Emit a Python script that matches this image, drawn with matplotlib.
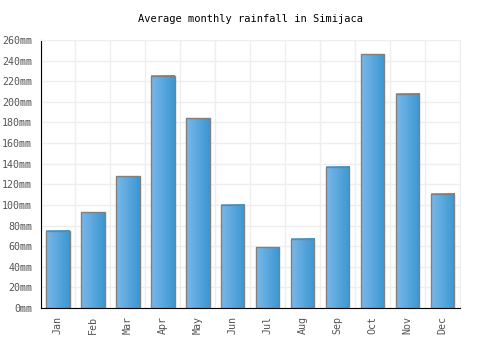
import numpy as np
import matplotlib.pyplot as plt
from matplotlib.colors import LinearSegmentedColormap

months = ['Jan', 'Feb', 'Mar', 'Apr', 'May', 'Jun',
          'Jul', 'Aug', 'Sep', 'Oct', 'Nov', 'Dec']
rainfall = [75, 93, 128, 225, 184, 100, 59, 67, 137, 246, 208, 111]
y_ticks = list(range(0, 261, 20))

fig = plt.figure(figsize=(5, 3.5), dpi=100)
ax = fig.add_axes([0.081, 0.12, 0.839, 0.766])

x = np.arange(len(months))
width = 0.67
cmap = LinearSegmentedColormap.from_list('bar', ['#7ab8ea', '#3b97d1'])
grad = np.linspace(0, 1, 64).reshape(1, -1)

# gradient fill for each bar, then outline on top
for xi, val in zip(x, rainfall):
    ax.imshow(grad, cmap=cmap, aspect='auto', zorder=2,
              extent=(xi - width / 2, xi + width / 2, 0, val))
ax.bar(x, rainfall, width=width, facecolor='none', edgecolor='#808080',
       linewidth=1, zorder=3)

ax.set_xlim(-0.5, len(months) - 0.5)
ax.set_ylim(0, 260)

ax.set_xticks(x)
ax.set_xticklabels(months, rotation=90, family='DejaVu Sans Mono',
                   fontsize=7.2, color='#555555')
ax.set_yticks(y_ticks)
ax.set_yticklabels([f'{v}mm' for v in y_ticks], family='DejaVu Sans Mono',
                   fontsize=7.2, color='#555555')
ax.tick_params(length=0, pad=6)

# grid at category boundaries and y ticks
ax.set_xticks(np.arange(-0.5, len(months)), minor=True)
ax.tick_params(which='minor', length=0)
ax.grid(True, which='minor', axis='x', color='#eeeeee', linewidth=1, zorder=0)
ax.grid(True, which='major', axis='y', color='#eeeeee', linewidth=1, zorder=0)
ax.set_axisbelow(True)

for s in ['top', 'right']:
    ax.spines[s].set_color('#eeeeee')
ax.spines['left'].set_color('black')
ax.spines['bottom'].set_color('black')

fig.text(0.5, 0.946, 'Average monthly rainfall in Simijaca', ha='center',
         va='center', family='DejaVu Sans Mono', fontsize=7.5)

fig.savefig('out.png', dpi=100)
